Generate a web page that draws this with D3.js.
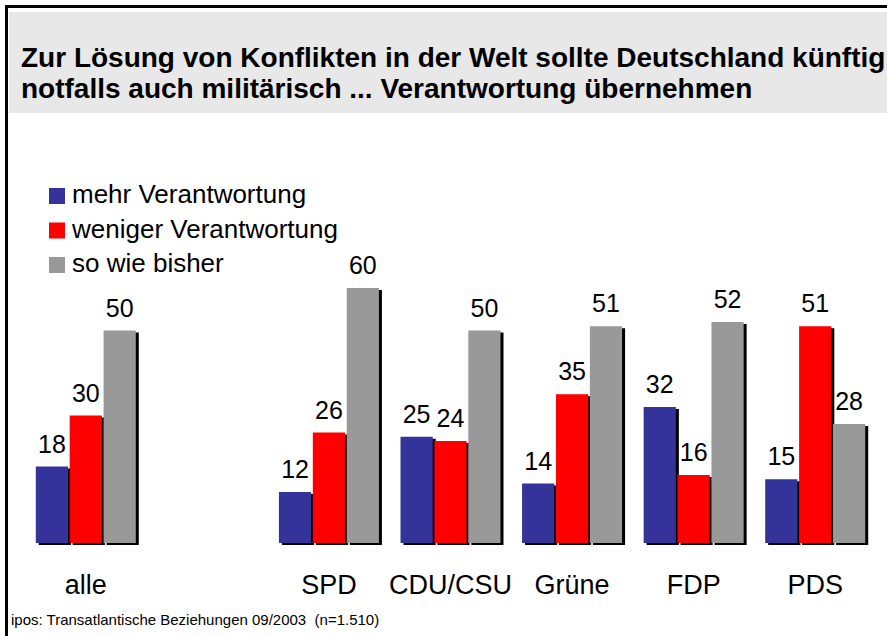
<!DOCTYPE html>
<html>
<head>
<meta charset="utf-8">
<script src="https://cdn.jsdelivr.net/npm/d3@7"></script>
<style>
  body { margin: 0; background: #fff; }
  svg { display: block; font-family: "Liberation Sans", Arial, sans-serif; }
</style>
</head>
<body>
<div id="chart"></div>
<script>
// data
const groups = ["alle", "SPD", "CDU/CSU", "Grüne", "FDP", "PDS"];
const series = ["mehr Verantwortung", "weniger Verantwortung", "so wie bisher"];
const mehr = [18, 12, 25, 14, 32, 15];
const weniger = [30, 26, 24, 35, 16, 51];
const bisher = [50, 60, 50, 51, 52, 28];
const colors = ["#333399", "#ff0000", "#999999"];
const titleLines = [
  "Zur Lösung von Konflikten in der Welt sollte Deutschland künftig",
  "notfalls auch militärisch ... Verantwortung übernehmen"
];
const source = "ipos: Transatlantische Beziehungen 09/2003  (n=1.510)";

const W = 887, H = 636;

const svg = d3.select("#chart").append("svg")
  .attr("width", W)
  .attr("height", H);

// frame + title band
svg.append("rect")
  .attr("x", 6.5).attr("y", 6.5)
  .attr("width", W + 20).attr("height", H + 20)
  .attr("fill", "#fff")
  .attr("stroke", "#000")
  .attr("stroke-width", 3);

svg.append("rect")
  .attr("x", 9).attr("y", 12)
  .attr("width", W).attr("height", 101)
  .attr("fill", "#e8e8e8");

svg.append("g").selectAll("text")
  .data(titleLines)
  .enter().append("text")
  .attr("x", 21)
  .attr("y", (d, i) => 67 + i * 31)
  .style("font-size", "28px")
  .style("font-weight", "bold")
  .style("fill", "#000")
  .text(d => d);

// scales: an empty slot keeps the gap between "alle" and the parties
const slots = ["alle", "_gap", ...groups.slice(1)];
const x0 = d3.scaleBand().domain(slots).range([25, 876]).padding(0);
const x1 = d3.scaleBand().domain(series).range([-50, 50]).paddingInner(0.05);
const y = d3.scaleLinear().domain([0, 60]).range([543, 288]);

const table = groups.map((g, i) => ({
  group: g,
  values: [mehr[i], weniger[i], bisher[i]].map((v, j) => ({ series: series[j], value: v, color: colors[j] }))
}));

const gGroups = svg.append("g").selectAll("g.group")
  .data(table)
  .enter().append("g")
  .attr("class", "group")
  .attr("transform", d => `translate(${x0(d.group) + x0.bandwidth() / 2},0)`);

const bars = gGroups.selectAll("g.bar")
  .data(d => d.values)
  .enter().append("g")
  .attr("class", "bar");

// drop shadow
bars.append("rect")
  .attr("x", d => x1(d.series) + 3)
  .attr("y", d => y(d.value) + 2)
  .attr("width", x1.bandwidth())
  .attr("height", d => y(0) - y(d.value))
  .attr("fill", "#000");

bars.append("rect")
  .attr("x", d => x1(d.series))
  .attr("y", d => y(d.value))
  .attr("width", x1.bandwidth())
  .attr("height", d => y(0) - y(d.value))
  .attr("fill", d => d.color);

bars.append("text")
  .attr("x", d => x1(d.series) + x1.bandwidth() / 2)
  .attr("y", d => y(d.value) - 14)
  .attr("text-anchor", "middle")
  .style("font-size", "25px")
  .style("fill", "#000")
  .text(d => d.value);

gGroups.append("text")
  .attr("y", 594)
  .attr("text-anchor", "middle")
  .style("font-size", "27px")
  .style("fill", "#000")
  .text(d => d.group);

// legend
const legend = svg.append("g")
  .selectAll("g.item")
  .data(series)
  .enter().append("g")
  .attr("class", "item")
  .attr("transform", (d, i) => `translate(49,${188 + i * 34.5})`);

legend.append("rect")
  .attr("width", 16)
  .attr("height", 16)
  .attr("fill", (d, i) => colors[i]);

legend.append("text")
  .attr("x", 23)
  .attr("y", 15)
  .style("font-size", "26px")
  .style("fill", "#000")
  .text(d => d);

svg.append("text")
  .attr("x", 11)
  .attr("y", 625)
  .style("font-size", "15px")
  .style("white-space", "pre")
  .style("fill", "#000")
  .text(source);
</script>
</body>
</html>
